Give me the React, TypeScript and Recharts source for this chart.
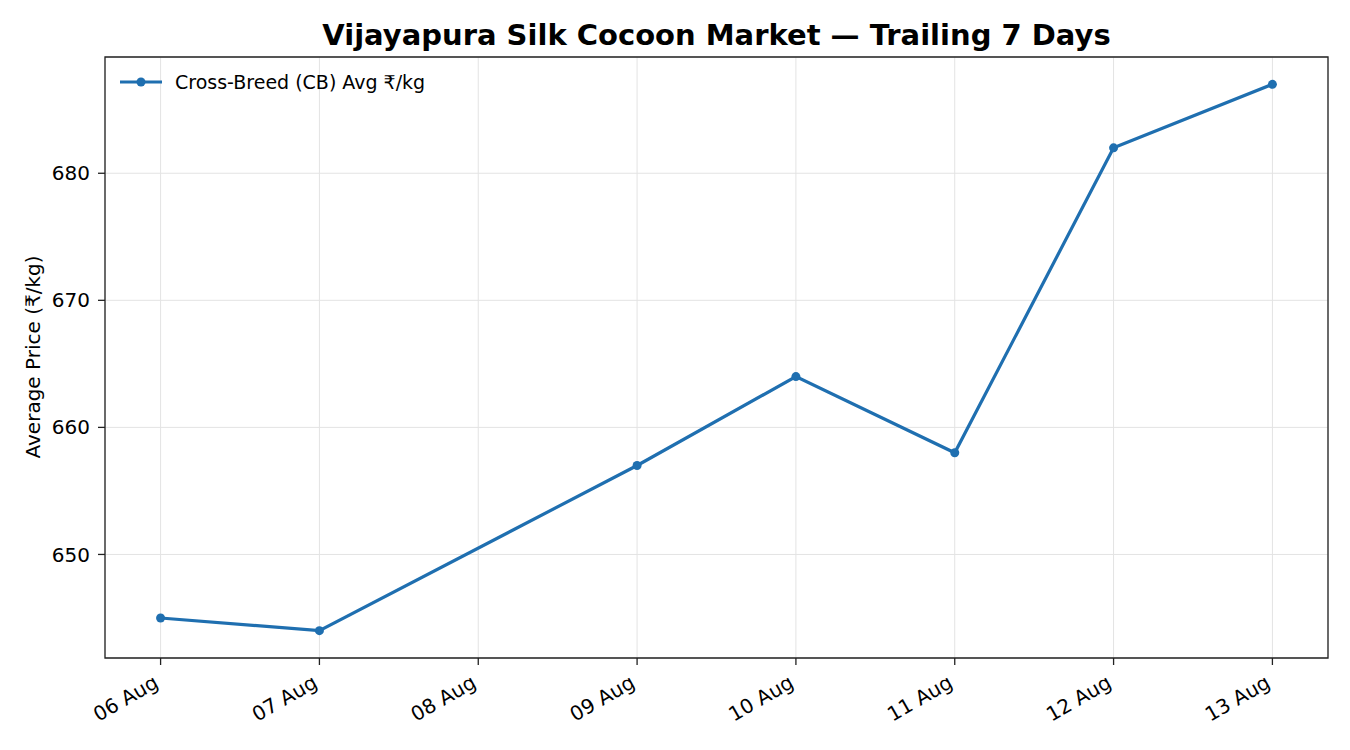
import React from "react";
import {
  LineChart,
  Line,
  XAxis,
  YAxis,
  CartesianGrid,
  ReferenceArea,
} from "recharts";

const days = [6, 7, 9, 10, 11, 12, 13];
const prices = [645, 644, 657, 664, 658, 682, 687];
const xTicks = [6, 7, 8, 9, 10, 11, 12, 13];
const xTickLabels = [
  "06 Aug",
  "07 Aug",
  "08 Aug",
  "09 Aug",
  "10 Aug",
  "11 Aug",
  "12 Aug",
  "13 Aug",
];
const yTicks = [650, 660, 670, 680];

const seriesName = "Cross-Breed (CB) Avg ₹/kg";
const blue = "#1f6fb0";
const font = "'DejaVu Sans', sans-serif";

const data = days.map((d, i) => ({ day: d, price: prices[i] }));

const xMin = 5.65;
const xMax = 13.35;
const yMin = 641.85;
const yMax = 689.15;

const DateTick = (props: any) => {
  const { x, y, payload } = props;
  const idx = xTicks.indexOf(payload.value);
  return (
    <g transform={`translate(${x - 8},${y + 4})`}>
      <text
        x={0}
        y={0}
        dy="0.72em"
        textAnchor="end"
        transform="rotate(-30)"
        fontSize={20}
        fontFamily={font}
        fill="#000"
      >
        {xTickLabels[idx]}
      </text>
    </g>
  );
};

// legend drawn by hand, sits inside the top-left of the plot
const LegendBox = () => (
  <svg
    width={340}
    height={30}
    style={{ position: "absolute", left: 115, top: 70 }}
  >
    <line x1={5} y1={12} x2={47} y2={12} stroke={blue} strokeWidth={3} />
    <circle cx={26} cy={12} r={4.5} fill={blue} />
    <text x={60} y={18.5} fontSize={19} fontFamily={font} fill="#000">
      {seriesName}
    </text>
  </svg>
);

const App: React.FC = () => {
  return (
    <div
      style={{
        position: "absolute",
        left: 0,
        top: 0,
        width: 1350,
        height: 750,
        background: "#fff",
        fontFamily: font,
      }}
    >
      <div
        style={{
          position: "absolute",
          left: 105,
          width: 1223,
          top: 18,
          textAlign: "center",
          fontSize: 29,
          fontWeight: "bold",
          color: "#000",
          whiteSpace: "nowrap",
        }}
      >
        Vijayapura Silk Cocoon Market — Trailing 7 Days
      </div>
      <div
        style={{
          position: "absolute",
          left: 33,
          top: 357,
          transform: "translate(-50%, -50%) rotate(-90deg)",
          whiteSpace: "nowrap",
          fontSize: 20,
          color: "#000",
        }}
      >
        Average Price (₹/kg)
      </div>
      <LineChart
        width={1350}
        height={750}
        data={data}
        margin={{ top: 57, right: 22, left: 0, bottom: 0 }}
        style={{ position: "absolute", left: 0, top: 0 }}
      >
        <CartesianGrid stroke="#e3e3e3" strokeWidth={1} />
        <XAxis
          dataKey="day"
          type="number"
          domain={[xMin, xMax]}
          ticks={xTicks}
          allowDataOverflow
          height={92}
          tickSize={7}
          tickMargin={5}
          tick={<DateTick />}
          axisLine={false}
          tickLine={{ stroke: "#222", strokeWidth: 1.3 }}
        />
        <YAxis
          type="number"
          domain={[yMin, yMax]}
          ticks={yTicks}
          allowDataOverflow
          width={105}
          tickSize={7}
          tickMargin={8}
          axisLine={false}
          tickLine={{ stroke: "#222", strokeWidth: 1.3 }}
          tick={{ fontSize: 20, fill: "#000", fontFamily: font }}
        />
        <ReferenceArea
          x1={xMin}
          x2={xMax}
          y1={yMin}
          y2={yMax}
          fill="none"
          stroke="#222"
          strokeWidth={1.3}
          ifOverflow="visible"
        />
        <Line
          type="linear"
          dataKey="price"
          name={seriesName}
          stroke={blue}
          strokeWidth={3.2}
          dot={{ r: 4.5, fill: blue, stroke: blue, strokeWidth: 0 }}
          activeDot={false}
          isAnimationActive={false}
        />
      </LineChart>
      <LegendBox />
    </div>
  );
};

export default App;
